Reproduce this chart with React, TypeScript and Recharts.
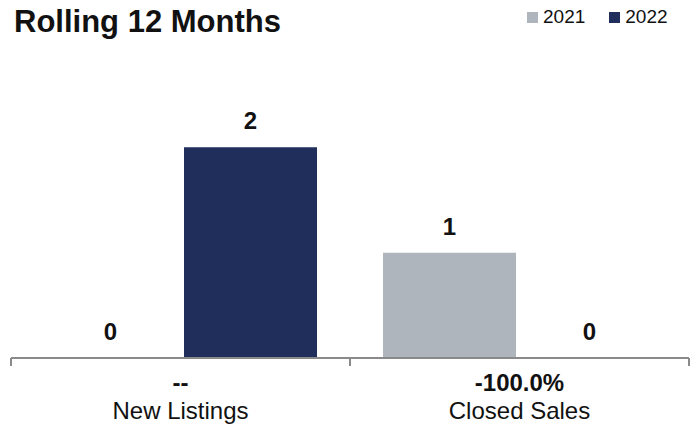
import { BarChart, Bar, XAxis, YAxis, LabelList } from "recharts"

const categories = ["New Listings", "Closed Sales"]
const values2021 = [0, 1]
const values2022 = [2, 0]
const changes = ["--", "-100.0%"]

const data = categories.map((name, i) => ({
  name,
  y2021: values2021[i],
  y2022: values2022[i],
  change: changes[i],
}))

const WIDTH = 696
const HEIGHT = 427
const MARGIN = { top: 42, right: 7, bottom: 0, left: 11 }
const BAND = (WIDTH - MARGIN.left - MARGIN.right) / categories.length
const FONT = "'Liberation Sans', Arial, Helvetica, sans-serif"

function CategoryTick(props: any) {
  const { x, y, payload, index } = props
  const row = data[index] ?? data.find((d) => d.name === payload.value)
  return (
    <g>
      <line x1={x - BAND / 2} x2={x - BAND / 2} y1={y} y2={y + 8} stroke="#8a8a8a" strokeWidth={2} />
      <line x1={x + BAND / 2} x2={x + BAND / 2} y1={y} y2={y + 8} stroke="#8a8a8a" strokeWidth={2} />
      <text x={x} y={y + 33} textAnchor="middle" fontSize={24} fontWeight="bold" fill="#111" fontFamily={FONT}>
        {row?.change}
      </text>
      <text x={x} y={y + 61} textAnchor="middle" fontSize={24} fill="#111" fontFamily={FONT}>
        {payload.value}
      </text>
    </g>
  )
}

export default function App() {
  return (
    <div style={{ position: "absolute", left: 0, top: 0, width: WIDTH, height: HEIGHT, background: "#fff", fontFamily: FONT }}>
      <div style={{ position: "absolute", left: 14, top: 4, fontSize: 31, fontWeight: "bold", color: "#111" }}>
        Rolling 12 Months
      </div>
      <div style={{ position: "absolute", left: 527, top: 6, display: "flex", alignItems: "center", fontSize: 19, color: "#111" }}>
        <span style={{ width: 11, height: 11, background: "#AFB5BC", display: "inline-block", marginRight: 5 }} />
        <span style={{ marginRight: 24 }}>2021</span>
        <span style={{ width: 11, height: 11, background: "#1F2E5B", display: "inline-block", marginRight: 5 }} />
        <span>2022</span>
      </div>
      <BarChart width={WIDTH} height={HEIGHT} data={data} margin={MARGIN} barCategoryGap={33} barGap={7}>
        <XAxis
          dataKey="name"
          height={69}
          axisLine={{ stroke: "#8a8a8a", strokeWidth: 2 }}
          tickLine={false}
          tickSize={0}
          tickMargin={0}
          interval={0}
          tick={<CategoryTick />}
        />
        <YAxis hide domain={[0, 3]} />
        <Bar dataKey="y2021" fill="#AFB5BC" minPointSize={0.01} isAnimationActive={false}>
          <LabelList dataKey="y2021" position="top" offset={18} fontSize={24} fontWeight="bold" fill="#111" fontFamily={FONT} />
        </Bar>
        <Bar dataKey="y2022" fill="#1F2E5B" minPointSize={0.01} isAnimationActive={false}>
          <LabelList dataKey="y2022" position="top" offset={18} fontSize={24} fontWeight="bold" fill="#111" fontFamily={FONT} />
        </Bar>
      </BarChart>
    </div>
  )
}
